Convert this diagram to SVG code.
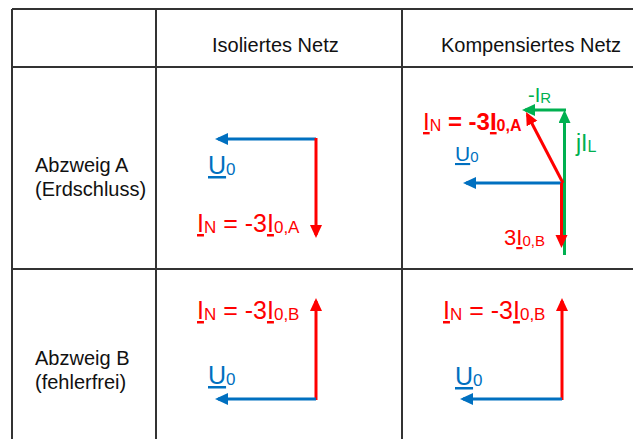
<svg xmlns="http://www.w3.org/2000/svg" width="633" height="439" viewBox="0 0 633 439">
<defs>
<style>
.grid{stroke:#333;stroke-width:2;fill:none}
.hdr{font-family:"Liberation Sans",Arial,sans-serif;font-size:20px;fill:#111}
.lbl{font-family:"Liberation Sans",Arial,sans-serif;fill:#FF0000}
.blue{fill:#0070C0}
.green{fill:#00B050}
.u{text-decoration:underline}
.b{font-weight:bold}
.vr{stroke:#FF0000;stroke-width:3;fill:none}
.vb{stroke:#0070C0;stroke-width:3;fill:none}
.vg{stroke:#00B050;stroke-width:3;fill:none}
</style>
<marker id="ar" markerUnits="userSpaceOnUse" markerWidth="14" markerHeight="13" refX="10" refY="6" orient="auto"><path d="M0,0 L13,6 L0,12 z" fill="#FF0000"/></marker>
<marker id="ab" markerUnits="userSpaceOnUse" markerWidth="14" markerHeight="13" refX="10" refY="6" orient="auto"><path d="M0,0 L13,6 L0,12 z" fill="#0070C0"/></marker>
<marker id="ag" markerUnits="userSpaceOnUse" markerWidth="14" markerHeight="13" refX="10" refY="6" orient="auto"><path d="M0,0 L13,6 L0,12 z" fill="#00B050"/></marker>
</defs>
<rect width="633" height="439" fill="#fff"/>
<g id="table">
<path class="grid" d="M12,9 V439 M156,9 V439 M402,9 V439 M12,9 H633 M12,67 H633 M12,269 H633"/>
<text class="hdr" x="212" y="52">Isoliertes Netz</text>
<text class="hdr" x="441" y="52">Kompensiertes Netz</text>
<text class="hdr" x="35" y="172">Abzweig A</text>
<text class="hdr" x="35" y="196">(Erdschluss)</text>
<text class="hdr" x="35" y="365">Abzweig B</text>
<text class="hdr" x="35" y="389">(fehlerfrei)</text>
</g>
<g id="connectors">
<line class="vb" x1="316" y1="139" x2="218" y2="139" marker-end="url(#ab)"/>
<line class="vr" x1="316" y1="138" x2="316" y2="235" marker-end="url(#ar)"/>
<line class="vr" x1="316" y1="400" x2="316" y2="301" marker-end="url(#ar)"/>
<line class="vb" x1="316" y1="399" x2="218" y2="399" marker-end="url(#ab)"/>
<line class="vb" x1="563" y1="183" x2="466" y2="183" marker-end="url(#ab)"/>
<line class="vg" x1="564.5" y1="255" x2="564.5" y2="113" marker-end="url(#ag)"/>
<line class="vg" x1="566" y1="110" x2="525" y2="110" marker-end="url(#ag)"/>
<line class="vr" x1="561.5" y1="183" x2="561.5" y2="245" marker-end="url(#ar)"/>
<line class="vr" x1="563" y1="183" x2="527.4" y2="114.7" marker-end="url(#ar)"/>
<line class="vr" x1="562" y1="400" x2="562" y2="301" marker-end="url(#ar)"/>
<line class="vb" x1="562" y1="399" x2="463" y2="399" marker-end="url(#ab)"/>
</g>
<g id="iso-a">
<text class="lbl blue" x="208" y="174" font-size="25"><tspan class="u">U</tspan><tspan font-size="17" dy="1">0</tspan></text>
<text class="lbl" x="197" y="232" font-size="25"><tspan class="u">I</tspan><tspan font-size="17" dy="1">N</tspan><tspan dy="-1"> = -3</tspan><tspan class="u">I</tspan><tspan font-size="17" dy="1">0,A</tspan></text>
</g>
<g id="iso-b">
<text class="lbl" x="197" y="319" font-size="25"><tspan class="u">I</tspan><tspan font-size="17" dy="1">N</tspan><tspan dy="-1"> = -3</tspan><tspan class="u">I</tspan><tspan font-size="17" dy="1">0,B</tspan></text>
<text class="lbl blue" x="208" y="384" font-size="25"><tspan class="u">U</tspan><tspan font-size="17" dy="1">0</tspan></text>
</g>
<g id="komp-a">
<text class="lbl green" x="528" y="102" font-size="20">-I<tspan font-size="15" dy="1">R</tspan></text>
<text class="lbl green" x="576" y="151" font-size="23">jI<tspan font-size="16" dy="1">L</tspan></text>
<text class="lbl" x="423" y="130" font-size="24"><tspan class="u">I</tspan><tspan font-size="16" dy="1">N</tspan><tspan class="b" dy="-1"> = -3</tspan><tspan class="b u">I</tspan><tspan class="b" font-size="16" dy="1">0,A</tspan></text>
<text class="lbl blue" x="455" y="161" font-size="21"><tspan class="u">U</tspan><tspan font-size="15" dy="1">0</tspan></text>
<text class="lbl" x="504" y="245" font-size="22">3<tspan class="u">I</tspan><tspan font-size="15" dy="1">0,B</tspan></text>
</g>
<g id="komp-b">
<text class="lbl" x="443" y="319" font-size="25"><tspan class="u">I</tspan><tspan font-size="17" dy="1">N</tspan><tspan dy="-1"> = -3</tspan><tspan class="u">I</tspan><tspan font-size="17" dy="1">0,B</tspan></text>
<text class="lbl blue" x="455" y="385" font-size="25"><tspan class="u">U</tspan><tspan font-size="17" dy="1">0</tspan></text>
</g>
</svg>
